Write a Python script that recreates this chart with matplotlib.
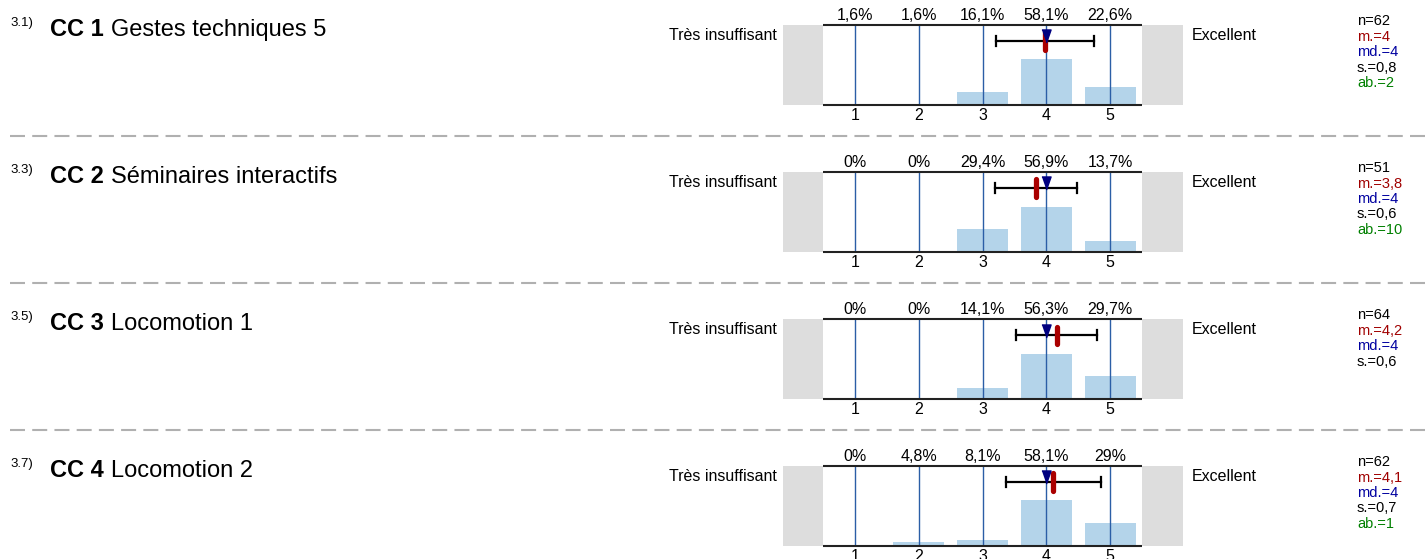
import matplotlib
matplotlib.use('Agg')
import matplotlib.pyplot as plt

plt.rcParams['font.family'] = ['Liberation Sans', 'DejaVu Sans']

# data
codes = ['3.1)', '3.3)', '3.5)', '3.7)']
bold_titles = ['CC 1', 'CC 2', 'CC 3', 'CC 4']
titles = ['Gestes techniques 5', 'Séminaires interactifs', 'Locomotion 1', 'Locomotion 2']
scale = [1, 2, 3, 4, 5]
pcts = [[1.6, 1.6, 16.1, 58.1, 22.6],
        [0, 0, 29.4, 56.9, 13.7],
        [0, 0, 14.1, 56.3, 29.7],
        [0, 4.8, 8.1, 58.1, 29]]
n_vals = [62, 51, 64, 62]
means = [3.98, 3.84, 4.16, 4.11]
mean_labels = ['4', '3,8', '4,2', '4,1']
medians = [4, 4, 4, 4]
sds = [0.77, 0.64, 0.63, 0.74]
sd_labels = ['0,8', '0,6', '0,6', '0,7']
abstentions = [2, 10, None, 1]
left_label = 'Très insuffisant'
right_label = 'Excellent'

W, H = 1425, 559
fig = plt.figure(figsize=(W / 100, H / 100), dpi=100)

# full-figure axes in pixel coords for titles / separators
tax = fig.add_axes([0, 0, 1, 1])
tax.set_xlim(0, W)
tax.set_ylim(H, 0)
tax.axis('off')

pitch = 147
top0 = 25.3
plot_h = 80
lab_fs = 11.5

for i in range(4):
    top = top0 + pitch * i

    # title
    tax.text(10, top - 2, codes[i], fontsize=9.5, va='center', ha='left')
    t1 = tax.text(50, top + 11, bold_titles[i], fontsize=17, fontweight='bold',
                  va='baseline', ha='left')
    tax.annotate(titles[i], xy=(1, 0), xycoords=t1, xytext=(5, 0),
                 textcoords='offset points', fontsize=17, va='bottom', ha='left')

    # stats
    stats = [('n=%d' % n_vals[i], 'black'),
             ('m.=' + mean_labels[i], '#a00000'),
             ('md.=%d' % medians[i], '#0000a0'),
             ('s.=' + sd_labels[i], 'black')]
    if abstentions[i] is not None:
        stats.append(('ab.=%d' % abstentions[i], '#008000'))
    for j, (s, c) in enumerate(stats):
        tax.text(1357, top - 4 + 15.4 * j, s, fontsize=10.5, color=c,
                 va='center', ha='left')

    tax.text(777, top + 10, left_label, fontsize=lab_fs, va='center', ha='right')
    tax.text(1192, top + 10, right_label, fontsize=lab_fs, va='center', ha='left')

    if i < 3:
        lw = 1.5
        tax.plot([10, W], [top + 110.7] * 2, color='#b0b0b0', lw=lw,
                 linestyle=(0, (10.8 / lw, 5.2 / lw)))

    # chart axes
    ax = fig.add_axes([783 / W, 1 - (top + plot_h) / H, 400 / W, plot_h / H])
    ax.set_xlim(0.5 - 0.625, 5.5 + 0.64)
    ax.set_ylim(0, 100)
    ax.axis('off')
    ax.axvspan(0.5 - 0.625, 0.5, color='#dddddd', lw=0)
    ax.axvspan(5.5, 5.5 + 0.64, color='#dddddd', lw=0)

    ax.bar(scale, pcts[i], width=0.8, color='#b4d4ea', zorder=1)
    for x in scale:
        ax.axvline(x, color='#2b5ea6', lw=1, zorder=2)
    ax.hlines([0, 100], 0.5, 5.5, color='#222222', lw=1.5, zorder=3, clip_on=False)

    for x, p in zip(scale, pcts[i]):
        lab = ('%g' % p).replace('.', ',') + '%'
        ax.annotate(lab, xy=(x, 100), xytext=(0, 7.3), textcoords='offset points',
                    ha='center', va='center', fontsize=lab_fs, annotation_clip=False)
        ax.annotate(str(x), xy=(x, 0), xytext=(0, -7.6), textcoords='offset points',
                    ha='center', va='center', fontsize=lab_fs, annotation_clip=False)

    # mean +/- sd
    m, s = means[i], sds[i]
    ax.plot([m - s, m + s], [80.5, 80.5], color='black', lw=1.6, zorder=4)
    ax.plot([m - s, m - s], [74.5, 86.5], color='black', lw=1.6, zorder=4)
    ax.plot([m + s, m + s], [74.5, 86.5], color='black', lw=1.6, zorder=4)
    ax.plot([m, m], [69.5, 91], color='#aa0000', lw=3.8, solid_capstyle='round', zorder=5)
    ax.plot([medians[i]], [86], marker=[(-0.7, 1), (0.7, 1), (0, -1)], markersize=9.4,
            color='#000080', lw=0, zorder=6, clip_on=False)

fig.savefig('out.png', dpi=100)
